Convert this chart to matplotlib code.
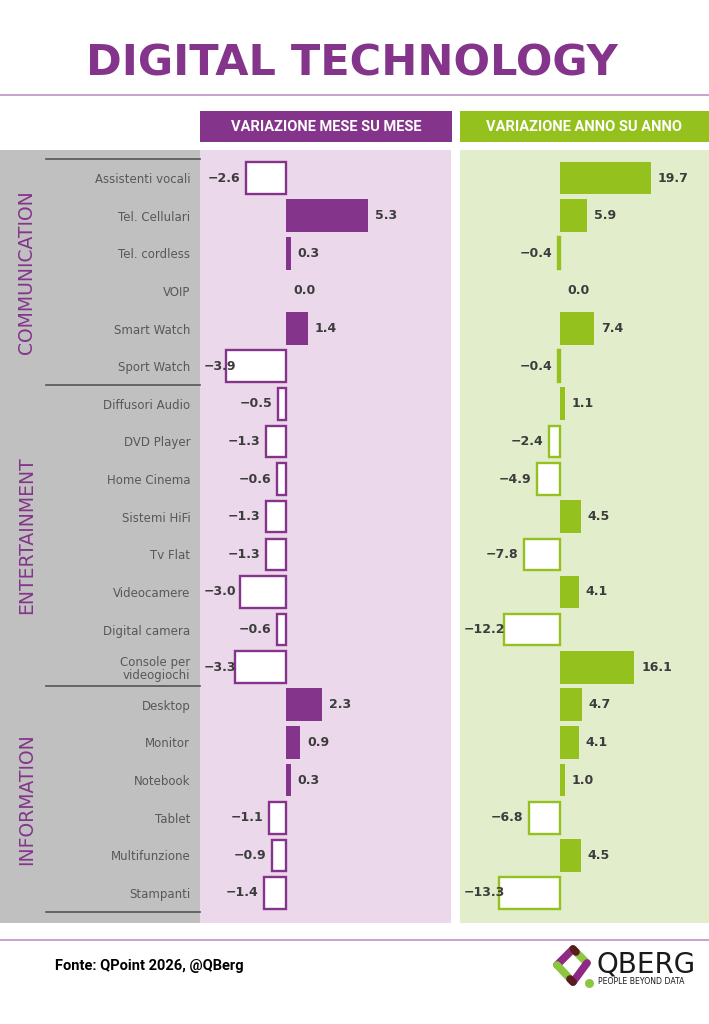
import matplotlib
matplotlib.use("Agg")
import matplotlib.pyplot as plt
from matplotlib.patches import Rectangle

# data
items = ["Assistenti vocali", "Tel. Cellulari", "Tel. cordless", "VOIP", "Smart Watch",
         "Sport Watch", "Diffusori Audio", "DVD Player", "Home Cinema", "Sistemi HiFi",
         "Tv Flat", "Videocamere", "Digital camera", "Console per\nvideogiochi",
         "Desktop", "Monitor", "Notebook", "Tablet", "Multifunzione", "Stampanti"]
mom = [-2.6, 5.3, 0.3, 0.0, 1.4, -3.9, -0.5, -1.3, -0.6, -1.3, -1.3, -3.0, -0.6, -3.3,
       2.3, 0.9, 0.3, -1.1, -0.9, -1.4]
yoy = [19.7, 5.9, -0.4, 0.0, 7.4, -0.4, 1.1, -2.4, -4.9, 4.5, -7.8, 4.1, -12.2, 16.1,
       4.7, 4.1, 1.0, -6.8, 4.5, -13.3]
groups = ["COMMUNICATION", "ENTERTAINMENT", "INFORMATION"]
group_sizes = [6, 8, 6]

purple = "#84358B"
green = "#95C11F"
pink_bg = "#EBD8EA"
green_bg = "#E2EDCB"
gray_bg = "#C0C0C0"
txt = "#3C3C3C"

W, H = 709, 1024
fig = plt.figure(figsize=(W / 100, H / 100), dpi=100)
fig.patch.set_facecolor("white")

bg = fig.add_axes([0, 0, 1, 1])
bg.set_xlim(0, W)
bg.set_ylim(H, 0)
bg.axis("off")

# title and rules
bg.text(352, 63, "DIGITAL TECHNOLOGY", ha="center", va="center", color=purple,
        fontsize=31, fontweight="bold", family="DejaVu Sans")
bg.plot([0, W], [95, 95], color="#BE93C2", lw=1.2)
bg.plot([0, W], [940, 940], color="#BE93C2", lw=1.2)

# panels
top, bot = 150, 923
bg.add_patch(Rectangle((0, top), 200, bot - top, color=gray_bg, lw=0))
bg.add_patch(Rectangle((200, top), 251, bot - top, color=pink_bg, lw=0))
bg.add_patch(Rectangle((460, top), 249, bot - top, color=green_bg, lw=0))

# headers
bg.add_patch(Rectangle((200, 111), 252, 31, color=purple, lw=0))
bg.add_patch(Rectangle((460, 111), 249, 31, color=green, lw=0))
bg.text(326, 127, "VARIAZIONE MESE SU MESE", ha="center", va="center", color="white",
        fontsize=10.5, fontweight="bold", family="Roboto")
bg.text(584, 127, "VARIAZIONE ANNO SU ANNO", ha="center", va="center", color="white",
        fontsize=10.5, fontweight="bold", family="Roboto")

# row geometry
n = len(items)
rows = list(range(n))
row0, rowN = 178, 893
step = (rowN - row0) / (n - 1)
ylo = (top - row0) / step
yhi = (bot - row0) / step


def bar_panel(left_px, width_px, zero_px, scale, values, col):
    ax = fig.add_axes([left_px / W, 1 - bot / H, width_px / W, (bot - top) / H])
    ax.set_facecolor("none")
    ax.set_xlim((left_px - zero_px) / scale, (left_px + width_px - zero_px) / scale)
    ax.set_ylim(yhi, ylo)
    for s in ax.spines.values():
        s.set_visible(False)
    ax.set_xticks([])
    ax.set_yticks([])
    labels = []
    for i, v in zip(rows, values):
        if v < 0:
            ax.barh(i, v, height=0.84, facecolor="white", edgecolor=col, linewidth=1.7)
            t = ax.annotate("\u2212%.1f" % abs(v), (v, i), xytext=(-4, 0),
                            textcoords="offset points", ha="right", va="center",
                            fontsize=9, fontweight="bold", color=txt)
            labels.append((t, i))
        else:
            if v > 0:
                ax.barh(i, v, height=0.87, color=col, linewidth=0)
            ax.annotate("%.1f" % v, (v, i), xytext=(5, 0), textcoords="offset points",
                        ha="left", va="center", fontsize=9, fontweight="bold", color=txt)
    return ax, labels


axL, labL = bar_panel(200, 251, 286, 15.5, mom, purple)
axR, labR = bar_panel(460, 249, 560, 4.62, yoy, green)

# item labels via y ticks
axL.set_yticks(rows)
axL.set_yticklabels(items, fontsize=8.5, color="#585858", family="DejaVu Sans",
                    linespacing=1.0)
axL.tick_params(axis="y", length=0, pad=7)

# separators and group labels
tr = axL.get_yaxis_transform()
x0 = (46 - 200) / 251
start = 0
for g, size in zip(groups, group_sizes):
    axL.plot([x0, 0], [start - 0.5, start - 0.5], transform=tr, color="#555555",
             lw=1.2, clip_on=False)
    axL.text((27 - 200) / 251, start + (size - 1) / 2, g, transform=tr, rotation=90,
             ha="center", va="center", color=purple, fontsize=13.5, clip_on=False)
    start += size
axL.plot([x0, 0], [start - 0.5, start - 0.5], transform=tr, color="#555555",
         lw=1.2, clip_on=False)

# keep negative labels inside their panel
fig.canvas.draw()
renderer = fig.canvas.get_renderer()
for ax, labs in ((axL, labL), (axR, labR)):
    for t, i in labs:
        bb = t.get_window_extent(renderer)
        if bb.x0 < ax.bbox.x0 + 3:
            s = t.get_text()
            t.remove()
            ax.text(4 / ax.bbox.width, i, s, transform=ax.get_yaxis_transform(),
                    ha="left", va="center", fontsize=9, fontweight="bold", color=txt)

# footer
bg.text(55, 966, "Fonte: QPoint 2026, @QBerg", ha="left", va="center", color="black",
        fontsize=10.5, fontweight="bold", family="Roboto")

# logo
lw = 5.5
bg.plot([573, 557], [949, 965], color="#8E2A85", lw=lw, solid_capstyle="round")
bg.plot([557, 573], [965, 982], color="#8DC63F", lw=lw, solid_capstyle="round")
bg.plot([573, 587], [949, 963], color="#8DC63F", lw=lw, solid_capstyle="round")
bg.plot([587, 573], [963, 982], color="#8E2A85", lw=lw, solid_capstyle="round")
bg.plot([573, 576], [949, 952], color="#5B1B22", lw=lw, solid_capstyle="round")
bg.plot([573, 570], [982, 979], color="#5B1B22", lw=lw, solid_capstyle="round")
bg.scatter([589], [983], s=30, color="#8DC63F", zorder=5)
bg.text(597, 964, "QBERG", ha="left", va="center", color="#1a1a1a", fontsize=20,
        family=["Liberation Sans Narrow", "DejaVu Sans"])
bg.text(598, 982, "PEOPLE BEYOND DATA", ha="left", va="center", color="#1a1a1a",
        fontsize=5.6, family=["Liberation Sans Narrow", "DejaVu Sans"])

fig.savefig("out.png", dpi=100)
